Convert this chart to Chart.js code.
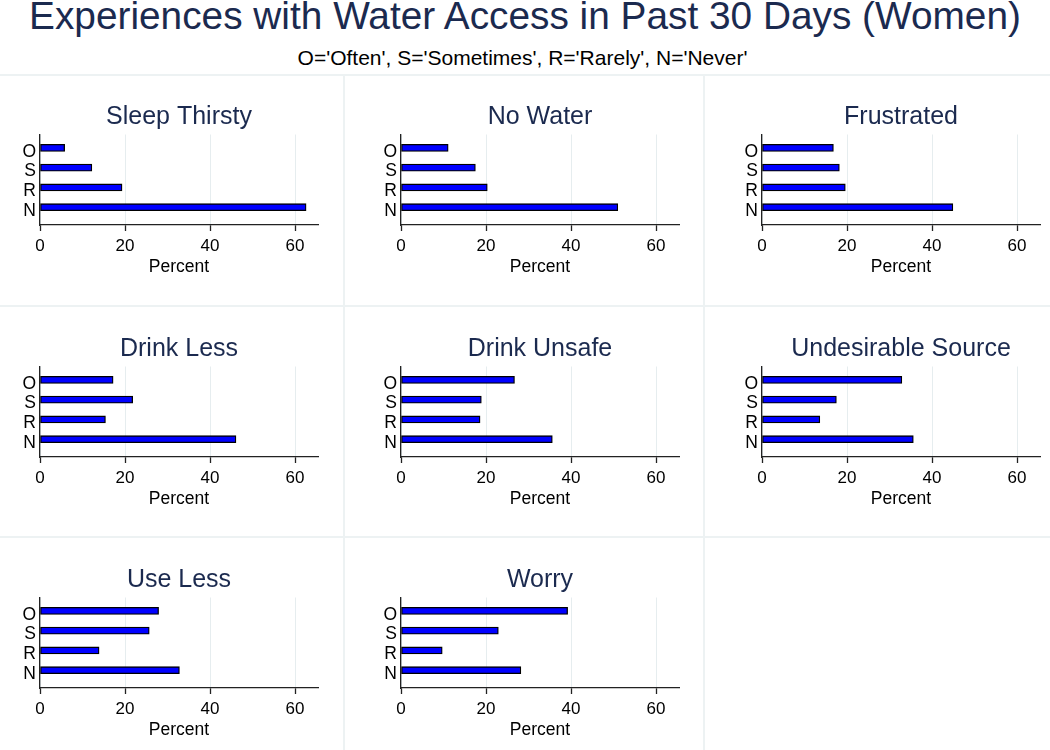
<!DOCTYPE html>
<html>
<head>
<meta charset="utf-8">
<script src="https://cdn.jsdelivr.net/npm/chart.js@4.4.1/dist/chart.umd.min.js"></script>
<style>
  html, body { margin: 0; padding: 0; background: #ffffff; }
  body { width: 1050px; height: 750px; position: relative; overflow: hidden;
         font-family: "Liberation Sans", Arial, Helvetica, sans-serif; }
  #mainTitle { position: absolute; left: 0; top: -3px; width: 1050px; text-align: center;
               font-size: 38.8px; line-height: 38.8px; color: #1b2a4f; white-space: nowrap; }
  #subTitle { position: absolute; left: 0; top: 47px; width: 1045px; text-align: center;
              font-size: 21px; line-height: 21px; color: #000; white-space: nowrap; }
  .hsep { position: absolute; left: 0; width: 1050px; height: 2px; background: #edf2f3; }
  .vsep { position: absolute; top: 75px; width: 2px; height: 675px; background: #edf2f3; }
  canvas.panel { position: absolute; }
</style>
</head>
<body>
<div id="mainTitle"></div>
<div id="subTitle"></div>
<div class="hsep" style="top:74px"></div>
<div class="hsep" style="top:305px"></div>
<div class="hsep" style="top:536px"></div>
<div class="vsep" style="left:343px"></div>
<div class="vsep" style="left:703px"></div>

<script>
// ---------- data ----------
const mainTitleText = "Experiences with Water Access in Past 30 Days (Women)";
const subTitleText = "O='Often', S='Sometimes', R='Rarely', N='Never'";
const categories = ["O", "S", "R", "N"];
const panelTitles = ["Sleep Thirsty", "No Water", "Frustrated", "Drink Less",
                     "Drink Unsafe", "Undesirable Source", "Use Less", "Worry"];
const sleepThirsty      = [5.8, 12.2, 19.3, 62.6];
const noWater           = [11.1, 17.5, 20.3, 51.0];
const frustrated        = [16.8, 18.2, 19.6, 44.9];
const drinkLess         = [17.2, 21.8, 15.4, 46.1];
const drinkUnsafe       = [26.7, 18.9, 18.6, 35.6];
const undesirableSource = [32.9, 17.5, 13.6, 35.6];
const useLess           = [27.9, 25.7, 13.9, 32.8];
const worry             = [39.2, 22.9, 9.7, 28.2];
const xTicks = [0, 20, 40, 60];
const xAxisTitle = "Percent";

const panelValues = [sleepThirsty, noWater, frustrated, drinkLess,
                     drinkUnsafe, undesirableSource, useLess, worry];

// ---------- layout ----------
document.getElementById("mainTitle").textContent = mainTitleText;
document.getElementById("subTitle").textContent = subTitleText;

Chart.defaults.font.family = '"Liberation Sans", Arial, Helvetica, sans-serif';

const colLeft = [0, 361, 722];
const rowTop = [95, 327, 558];
const CANVAS_W = 322, CANVAS_H = 185;
const TITLE_COLOR = "#1b2a4f";
const AXIS_COLOR = "#222222";

panelValues.forEach((vals, idx) => {
  const col = idx % 3, row = Math.floor(idx / 3);
  const cv = document.createElement("canvas");
  cv.className = "panel";
  cv.width = CANVAS_W; cv.height = CANVAS_H;
  cv.style.width = CANVAS_W + "px"; cv.style.height = CANVAS_H + "px";
  cv.style.left = colLeft[col] + "px"; cv.style.top = rowTop[row] + "px";
  document.body.appendChild(cv);

  new Chart(cv.getContext("2d"), {
    type: "bar",
    data: {
      datasets: [{
        data: vals.map((v, i) => ({ x: v, y: i })),
        backgroundColor: "#0000ff",
        borderColor: "#000000",
        borderWidth: 1.3,
        borderSkipped: false,
        barThickness: 7
      }]
    },
    options: {
      indexAxis: "y",
      responsive: false,
      animation: false,
      devicePixelRatio: 1,
      layout: { padding: { left: 0, right: 4, top: 0, bottom: 0 } },
      plugins: {
        legend: { display: false },
        tooltip: { enabled: false },
        title: {
          display: true, text: panelTitles[idx], fullSize: false,
          color: TITLE_COLOR, font: { size: 25, weight: "normal" },
          padding: { top: 7, bottom: 2.5 }
        }
      },
      scales: {
        x: {
          type: "linear", min: 0, max: 65.4, offset: false,
          afterBuildTicks: s => { s.ticks = xTicks.map(v => ({ value: v })); },
          grid: { color: "#e6edef", lineWidth: 1, tickColor: AXIS_COLOR, tickLength: 6, tickWidth: 1.3 },
          border: { color: AXIS_COLOR, width: 1.3 },
          ticks: { color: "#000", font: { size: 17 }, padding: 5, maxRotation: 0, autoSkip: false },
          title: { display: true, text: xAxisTitle, color: "#000", font: { size: 17.5 },
                   padding: { top: 0, bottom: 2 } },
          afterFit: s => { s.height = 55; }
        },
        y: {
          type: "linear", reverse: true, min: -0.675, max: 3.9, offset: false,
          afterBuildTicks: s => { s.ticks = categories.map((c, i) => ({ value: i })); },
          ticks: { color: "#000", font: { size: 17.5 }, padding: 4, autoSkip: false,
                   labelOffset: 4, callback: v => categories[v] },
          grid: { display: false, drawTicks: false, offset: false },
          border: { color: AXIS_COLOR, width: 1.3 },
          afterFit: s => { s.width = 40; }
        }
      }
    }
  });
});
</script>
</body>
</html>
